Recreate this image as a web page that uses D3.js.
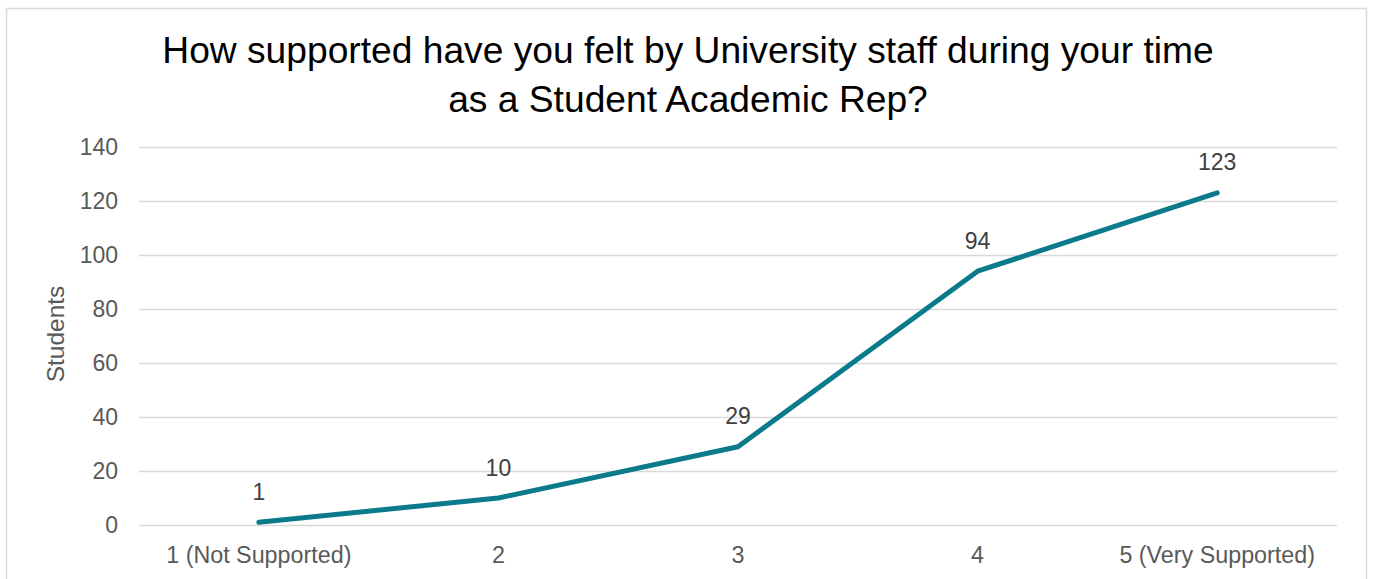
<!DOCTYPE html>
<html><head><meta charset="utf-8">
<script src="https://cdn.jsdelivr.net/npm/d3@7"></script>
<style>body{margin:0;background:#fff}svg{display:block}</style>
</head><body><svg id="c" width="1374" height="579"></svg>
<script>
const categories = ["1 (Not Supported)", "2", "3", "4", "5 (Very Supported)"];
const students = [1, 10, 29, 94, 123];
const yTicks = [0, 20, 40, 60, 80, 100, 120, 140];
const titleLines = ["How supported have you felt by University staff during your time", "as a Student Academic Rep?"];
const yTitle = "Students";

const svg = d3.select("#c");
const font = "'Liberation Sans', Arial, sans-serif";
svg.append("rect").attr("x", 6.5).attr("y", 8.5).attr("width", 1360).attr("height", 580)
  .attr("fill", "#fff").attr("stroke", "#d9d9d9").attr("stroke-width", 1.5);

const m = {l: 139, r: 1337, t: 147, b: 525};
const x = d3.scaleBand().domain(categories).range([m.l, m.r]);
const y = d3.scaleLinear().domain([0, 140]).range([m.b, m.t]);

svg.append("g").selectAll("text").data(titleLines).join("text")
  .attr("x", 688).attr("y", (d, i) => 63 + i * 48.5).attr("text-anchor", "middle")
  .attr("font-family", font).attr("font-size", 37.2).attr("fill", "#000").text(d => d);

const yAxis = svg.append("g").attr("transform", `translate(${m.l},0)`)
  .call(d3.axisLeft(y).tickValues(yTicks).tickSize(-(m.r - m.l)).tickPadding(21));
yAxis.select(".domain").remove();
yAxis.selectAll("line").attr("stroke", "#d9d9d9").attr("stroke-width", 1.3);
yAxis.selectAll("text").attr("font-family", font).attr("font-size", 23).attr("fill", "#595959");

const xAxis = svg.append("g").attr("transform", `translate(0,${m.b})`)
  .call(d3.axisBottom(x).tickSize(0).tickPadding(21));
xAxis.select(".domain").remove();
xAxis.selectAll("text").attr("font-family", font).attr("font-size", 23.3).attr("fill", "#595959");

svg.append("text").attr("transform", "translate(63.5,334) rotate(-90)").attr("text-anchor", "middle")
  .attr("font-family", font).attr("font-size", 24.5).attr("fill", "#595959").text(yTitle);

const pts = categories.map((c, i) => [x(c) + x.bandwidth() / 2, y(students[i])]);
svg.append("path").attr("d", d3.line()(pts)).attr("fill", "none")
  .attr("stroke", "#0b7b8b").attr("stroke-width", 5).attr("stroke-linejoin", "round").attr("stroke-linecap", "round");

svg.append("g").selectAll("text").data(students).join("text")
  .attr("x", (d, i) => pts[i][0]).attr("y", (d, i) => pts[i][1] - 22.5)
  .attr("text-anchor", "middle").attr("font-family", font).attr("font-size", 23).attr("fill", "#404040")
  .text(d => d);
</script></body></html>
